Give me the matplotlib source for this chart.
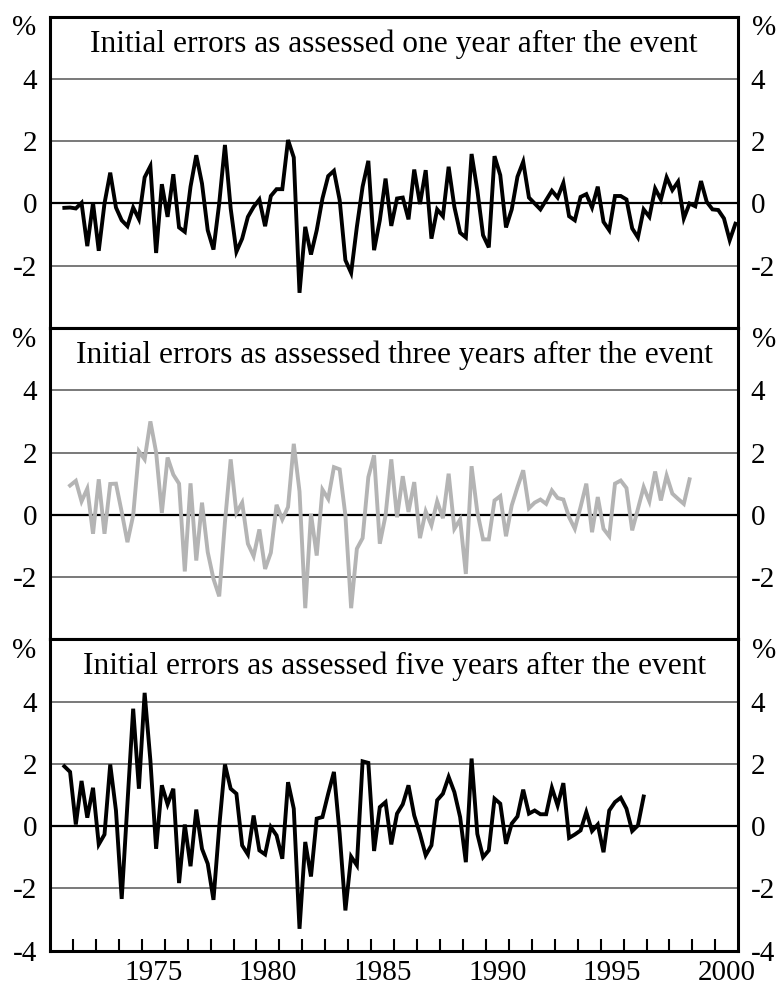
import numpy as np
import pandas as pd
import matplotlib
matplotlib.use('Agg')
import matplotlib.pyplot as plt

plt.rcParams['font.family'] = ['Liberation Serif', 'DejaVu Serif']
plt.rcParams['axes.unicode_minus'] = False

# Quarterly revisions to the initial estimates, per cent
one_year = [-0.14, -0.13, -0.16, 0.02, -1.37, 0.02, -1.52, 0.0, 0.99, -0.13,
            -0.54, -0.73, -0.13, -0.5, 0.84, 1.2, -1.59, 0.62, -0.43, 0.94,
            -0.77, -0.91, 0.54, 1.55, 0.64, -0.86, -1.48, 0.0, 1.88, -0.16,
            -1.55, -1.13, -0.43, -0.11, 0.13, -0.73, 0.24, 0.46, 0.46, 2.04,
            1.48, -2.87, -0.75, -1.64, -0.86, 0.16, 0.88, 1.05, 0.11, -1.82,
            -2.23, -0.75, 0.54, 1.37, -1.5, -0.54, 0.8, -0.72, 0.16, 0.19,
            -0.51, 1.09, -0.02, 1.07, -1.13, -0.19, -0.41, 1.18, -0.11, -0.94,
            -1.09, 1.59, 0.43, -1.02, -1.41, 1.52, 0.91, -0.77, -0.19, 0.86,
            1.34, 0.19, 0.0, -0.19, 0.11, 0.41, 0.19, 0.66, -0.41, -0.54,
            0.21, 0.3, -0.13, 0.54, -0.59, -0.86, 0.24, 0.24, 0.13, -0.8,
            -1.09, -0.19, -0.43, 0.48, 0.13, 0.84, 0.43, 0.7, -0.48, 0.0,
            -0.09, 0.72, 0.05, -0.19, -0.21, -0.48, -1.18, -0.65]

three_year = [0.94, 1.09, 0.43, 0.84, -0.61, 1.14, -0.61, 0.99, 1.0, 0.09,
              -0.88, -0.02, 2.04, 1.78, 3.0, 2.01, 0.06, 1.84, 1.29, 1.0,
              -1.82, 1.01, -1.47, 0.39, -1.2, -2.06, -2.62, -0.24, 1.78, 0.06,
              0.39, -0.93, -1.33, -0.47, -1.74, -1.22, 0.32, -0.15, 0.25, 2.28,
              0.75, -3.0, 0.03, -1.31, 0.81, 0.51, 1.53, 1.46, -0.02, -3.0,
              -1.09, -0.75, 1.21, 1.91, -0.93, -0.02, 1.78, -0.08, 1.24, 0.09,
              1.05, -0.75, 0.11, -0.34, 0.43, -0.11, 1.32, -0.45, -0.15, -1.9,
              1.56, 0.09, -0.79, -0.79, 0.46, 0.6, -0.69, 0.3, 0.89, 1.43,
              0.21, 0.39, 0.49, 0.35, 0.78, 0.54, 0.49, -0.08, -0.45, 0.25,
              1.0, -0.56, 0.57, -0.45, -0.69, 1.0, 1.1, 0.86, -0.5, 0.19,
              0.89, 0.43, 1.39, 0.46, 1.26, 0.68, 0.51, 0.35, 1.14]

five_year = [1.92, 1.74, 0.05, 1.45, 0.27, 1.23, -0.59, -0.27, 1.98, 0.5,
             -2.34, 0.72, 3.77, 1.2, 4.28, 2.11, -0.73, 1.31, 0.7, 1.2,
             -1.83, 0.05, -1.29, 0.53, -0.73, -1.21, -2.37, -0.03, 1.98, 1.2,
             1.04, -0.62, -0.91, 0.34, -0.78, -0.91, -0.03, -0.3, -1.05, 1.41,
             0.56, -3.3, -0.51, -1.62, 0.24, 0.29, 1.04, 1.74, -0.25, -2.71,
             -0.98, -1.26, 2.08, 2.03, -0.8, 0.61, 0.77, -0.59, 0.4, 0.7,
             1.31, 0.34, -0.25, -0.94, -0.62, 0.83, 1.04, 1.58, 1.09, 0.29,
             -1.16, 2.17, -0.25, -1.0, -0.78, 0.88, 0.72, -0.57, 0.08, 0.31,
             1.17, 0.4, 0.5, 0.38, 0.38, 1.23, 0.66, 1.38, -0.38, -0.27,
             -0.14, 0.45, -0.16, 0.05, -0.84, 0.5, 0.77, 0.91, 0.56, -0.16,
             0.02, 0.95]

panels = [
    ('Initial errors as assessed one year after the event', '1971Q3', one_year, 'black'),
    ('Initial errors as assessed three years after the event', '1971Q4', three_year, '#b4b4b4'),
    ('Initial errors as assessed five years after the event', '1971Q3', five_year, 'black'),
]

year_labels = [1975, 1980, 1985, 1990, 1995, 2000]


def quarter_positions(start, n):
    # place each quarter at its mid-point on a decimal-year axis
    q = pd.period_range(start, periods=n, freq='Q')
    return q.year + (q.quarter - 0.5) / 4


fig = plt.figure(figsize=(7.8, 9.88), dpi=100)

left, width = 50 / 780, 688.3 / 780
h = 311.3 / 988
top = 1 - 16.7 / 988

for i, (title, start, vals, color) in enumerate(panels):
    ax = fig.add_axes([left, top - (i + 1) * h, width, h])
    x = quarter_positions(start, len(vals))

    for g in (-2, 2, 4):
        ax.axhline(g, color='#6e6e6e', lw=1.3, zorder=1)
    ax.axhline(0, color='black', lw=1.6, zorder=2)
    ax.plot(x, vals, color=color, lw=2.8, zorder=3, solid_joinstyle='miter')

    ax.set_xlim(1971, 2001)
    ax.set_ylim(-4, 6)
    for s in ax.spines.values():
        s.set_linewidth(2.2)

    ax.set_yticks([-4, -2, 0, 2, 4])
    ylabs = ['-4', '-2', '0', '2', '4']
    if i < 2:
        ylabs[0] = ''
    ax.set_yticklabels(ylabs)
    ax.tick_params(axis='y', length=0, pad=9, labelsize=21,
                   labelleft=True, labelright=True)

    ax.text(0.5, 0.8876, title, transform=ax.transAxes, ha='center',
            va='baseline', fontsize=22.6)
    ax.annotate('%', xy=(0, 1), xycoords='axes fraction', xytext=(-10, 1),
                textcoords='offset points', ha='right', va='top', fontsize=21)
    ax.annotate('%', xy=(1, 1), xycoords='axes fraction', xytext=(10, 1),
                textcoords='offset points', ha='left', va='top', fontsize=21)

    if i < 2:
        ax.set_xticks([])
    else:
        ax.set_xticks(np.arange(1972, 2001))
        ax.set_xticklabels([])
        ax.set_xticks([y + 0.5 for y in year_labels], minor=True)
        ax.set_xticklabels([str(y) for y in year_labels], minor=True)
        ax.tick_params(axis='x', which='major', direction='in', length=8.5,
                       width=1.5)
        ax.tick_params(axis='x', which='minor', length=0, pad=7, labelsize=21)

fig.savefig('out.png', dpi=100)
